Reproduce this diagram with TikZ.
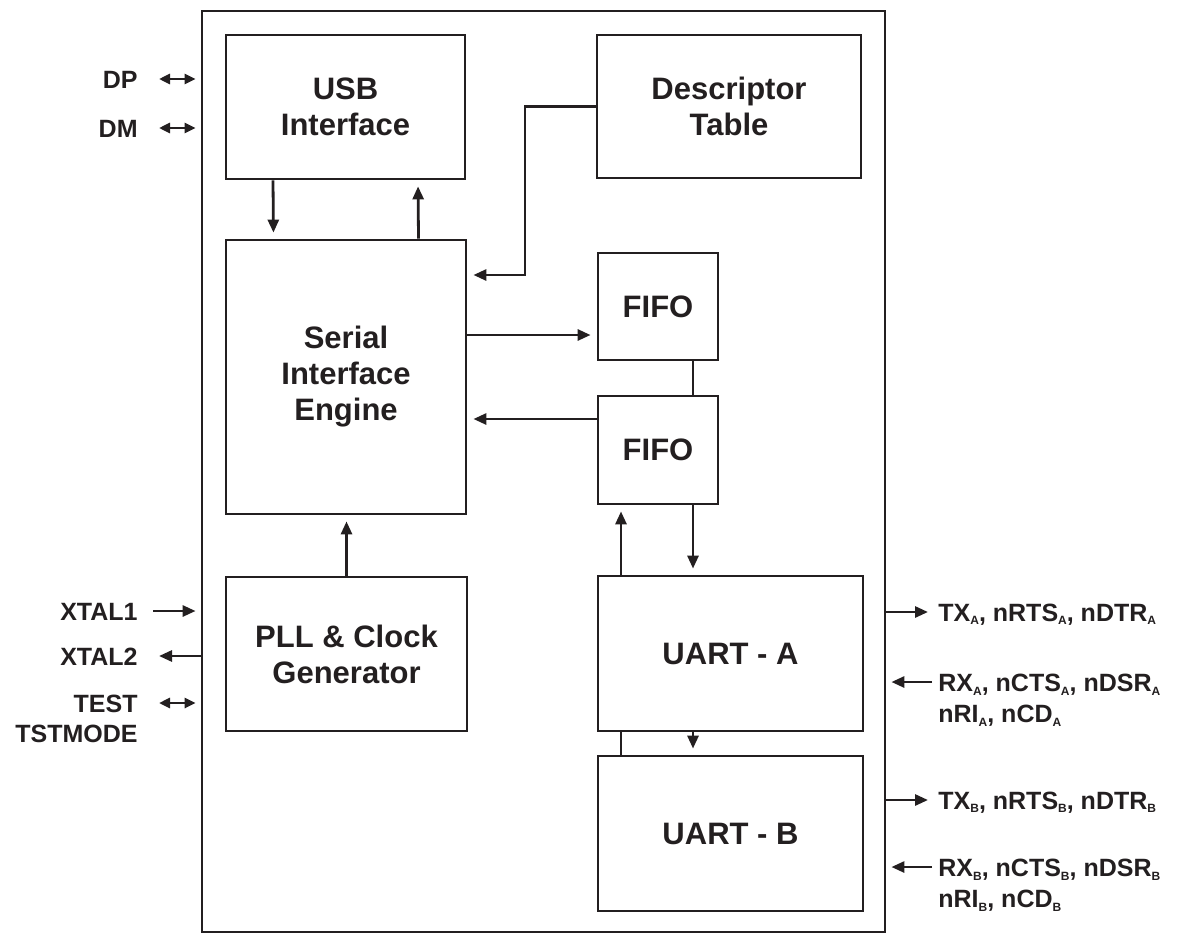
\documentclass[tikz,border=0pt]{standalone}
\usepackage{fontspec}
\setmainfont{Liberation Sans}
\usetikzlibrary{arrows.meta, positioning, calc}
\definecolor{ChipInk}{HTML}{231F20}
\newcommand{\pinsub}[1]{\raisebox{-0.3ex}{\fontsize{12}{12}\selectfont #1}}

\begin{document}
\begin{tikzpicture}[x=1pt, y=-1pt, line width=2.8pt, color=ChipInk,
    block/.style={draw, rectangle, inner sep=0pt, align=center, font=\fontsize{31}{36}\selectfont\bfseries},
    pinlabel/.style={inner sep=0pt, font=\fontsize{25}{31}\selectfont\bfseries},
    pinline/.style={pinlabel, text height=18pt, text depth=0pt},
    arr/.style={-{Triangle[length=13pt, width=11pt]}, shorten >=6pt},
    biarr/.style={{Triangle[length=11pt, width=10pt]}-{Triangle[length=11pt, width=10pt]}}]
    \useasboundingbox (0,0) rectangle (1190,934);

    \node[draw, inner sep=0pt, minimum width=683pt, minimum height=921pt] (chip) at (543.5,471.5) {};

    \node[block, minimum width=239pt, minimum height=144pt] (usb) at (345.5,107) {USB\\Interface};
    \node[block, minimum width=264pt, minimum height=143pt] (desc) at (729,106.5) {Descriptor\\Table};
    \node[block, minimum width=240pt, minimum height=274pt] (sie) at (346,377) {Serial\\Interface\\Engine};
    \node[block, minimum width=120pt, minimum height=107pt] (fifoin) at (658,306.5) {FIFO};
    \node[block, minimum width=120pt, minimum height=108pt] (fifoout) at (658,450) {FIFO};
    \node[block, minimum width=241pt, minimum height=154pt] (pll) at (346.5,654) {PLL \& Clock\\Generator};
    \node[block, minimum width=265pt, minimum height=155pt] (uarta) at (730.5,653.5) {UART - A};
    \node[block, minimum width=265pt, minimum height=155pt] (uartb) at (730.5,833.5) {UART - B};

    \draw[arr] ([xshift=-72.5pt]usb.south) -- ([xshift=-72.5pt]sie.north);
    \draw[arr] ([xshift=72.5pt]sie.north) -- ([xshift=72.5pt]usb.south);
    \coordinate (descbend) at (525,275);
    \draw[arr] (desc.west) -| (descbend) -- (descbend -| sie.east);
    \coordinate (fifoinport) at ($(fifoin.west)+(0,28.5)$);
    \draw[arr] (fifoinport -| sie.east) -- (fifoinport);
    \coordinate (fifooutport) at ($(fifoout.west)+(0,-31)$);
    \draw[arr] (fifooutport) -- (fifooutport -| sie.east);
    \draw ([xshift=35pt]fifoin.south) -- ([xshift=35pt]fifoout.north);
    \draw[arr] ([xshift=35pt]fifoout.south) -- ([xshift=-37.5pt]uarta.north);
    \draw[arr] ([xshift=-109.5pt]uarta.north) -- ([xshift=-37pt]fifoout.south);
    \draw[arr] (pll.north) -- (pll.north |- sie.south);
    \draw ([xshift=-109.5pt]uarta.south) -- ([xshift=-109.5pt]uartb.north);
    \draw[arr] ([xshift=-37.5pt]uarta.south) -- ([xshift=-37.5pt]uartb.north);

    \foreach \pinname/\pintext/\y in {dp/DP/79, dm/DM/128, xtala/XTAL1/611, xtalb/XTAL2/656, test/TEST/703, tstmode/TSTMODE/733}
        \node[pinline, anchor=east] (\pinname) at (139,\y) {\pintext};

    \draw[biarr, shorten <=20pt, shorten >=5pt] (dp.east) -- (dp.east -| chip.west);
    \draw[biarr, shorten <=20pt, shorten >=5pt] (dm.east) -- (dm.east -| chip.west);
    \draw[arr, shorten <=14pt, shorten >=5pt] (xtala.east) -- (xtala.east -| chip.west);
    \draw[arr, shorten >=20pt] (xtalb.east -| chip.west) -- (xtalb.east);
    \draw[biarr, shorten <=20pt, shorten >=5pt] (test.east) -- (test.east -| chip.west);

    \node[pinline, anchor=west] (txa) at (937,612) {TX\pinsub{A}, nRTS\pinsub{A}, nDTR\pinsub{A}};
    \node[pinlabel, anchor=north west, align=left] (rxa) at (937,673) {RX\pinsub{A}, nCTS\pinsub{A}, nDSR\pinsub{A}\\nRI\pinsub{A}, nCD\pinsub{A}};
    \node[pinline, anchor=west] (txb) at (937,800) {TX\pinsub{B}, nRTS\pinsub{B}, nDTR\pinsub{B}};
    \node[pinlabel, anchor=north west, align=left] (rxb) at (937,858) {RX\pinsub{B}, nCTS\pinsub{B}, nDSR\pinsub{B}\\nRI\pinsub{B}, nCD\pinsub{B}};

    \draw[arr, shorten >=9pt] (txa.west -| chip.east) -- (txa.west);
    \draw[arr, shorten >=9pt] (txb.west -| chip.east) -- (txb.west);
    \coordinate (rxatap) at ($(rxa.north west)+(0,9)$);
    \draw[arr, shorten <=5pt, shorten >=5pt] (rxatap) -- (rxatap -| chip.east);
    \coordinate (rxbtap) at ($(rxb.north west)+(0,9)$);
    \draw[arr, shorten <=5pt, shorten >=5pt] (rxbtap) -- (rxbtap -| chip.east);
\end{tikzpicture}
\end{document}
